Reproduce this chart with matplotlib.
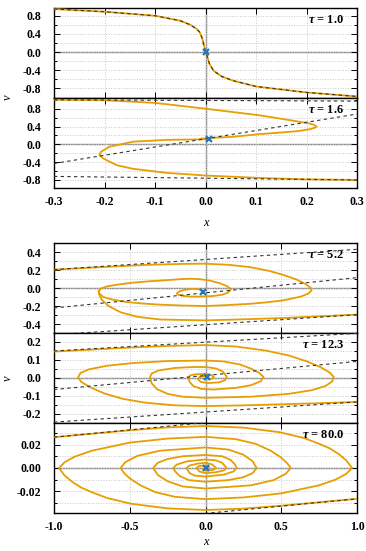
import numpy as np
import matplotlib.pyplot as plt
from matplotlib.ticker import MultipleLocator, FormatStrFormatter

plt.rcParams['font.family'] = 'Liberation Serif'
plt.rcParams['mathtext.fontset'] = 'custom'
plt.rcParams['mathtext.it'] = 'Liberation Serif:italic:bold'
plt.rcParams['mathtext.rm'] = 'Liberation Serif:bold'

ORANGE = '#E69F00'
BLUE = '#1f78c1'

# ---- data ----
tau_labels = ['1.0', '1.6', '5.2', '12.3', '80.0']

# tau = 1.0
p1_x = [-0.3, -0.2, -0.1, -0.05, -0.03, -0.017, -0.011, -0.006, -0.003, 0.0,
        0.004, 0.008, 0.016, 0.032, 0.055, 0.1, 0.2, 0.3]
p1_y = [0.947, 0.888, 0.80, 0.69, 0.6, 0.506, 0.43, 0.286, 0.14, 0.015,
        -0.117, -0.264, -0.41, -0.536, -0.63, -0.756, -0.888, -0.976]
p1_fix = (0.0, 0.0)

# tau = 1.6
p2a_x = [-0.3, -0.2, -0.1, 0.0, 0.108, 0.174, 0.205, 0.214, 0.22, 0.216, 0.207,
         0.185, 0.155, 0.108, 0.055, 0.0, -0.01, 0.006]
p2a_y = [1.0, 0.99, 0.93, 0.80, 0.65, 0.53, 0.47, 0.44, 0.40, 0.37, 0.34,
         0.30, 0.27, 0.23, 0.17, 0.137, 0.125, 0.114]
p2b_x = [0.3, 0.2, 0.12, 0.0, -0.077, -0.143, -0.175, -0.19, -0.203, -0.21, -0.207,
         -0.19, -0.143, -0.077, 0.006]
p2b_y = [-0.80, -0.785, -0.76, -0.70, -0.64, -0.55, -0.47, -0.39, -0.31, -0.243, -0.167,
         -0.053, 0.06, 0.10, 0.114]
p2_null = [([-0.3, 0.3], [1.0, 0.97]), ([-0.3, 0.3], [-0.43, 0.68]), ([-0.3, 0.3], [-0.72, -0.80])]
p2_fix = (0.006, 0.114)

# tau = 5.2
p3a_x = [-1.0, -0.8, -0.6, -0.37, -0.15, 0.0, 0.15, 0.29, 0.42, 0.515, 0.6, 0.66, 0.695, 0.70,
         0.68, 0.63, 0.515, 0.4, 0.29, 0.12, 0.0, -0.15, -0.3, -0.42, -0.52, -0.61, -0.675, -0.70,
         -0.705, -0.69, -0.65, -0.57, -0.48, -0.37, -0.257, -0.15, -0.1, -0.03, 0.03, 0.096, 0.14,
         0.163, 0.166, 0.15, 0.11, 0.05, -0.036, -0.1, -0.15, -0.18, -0.19, -0.175, -0.14, -0.09,
         -0.05, -0.025, -0.015]
p3a_y = [0.204, 0.222, 0.24, 0.258, 0.268, 0.27, 0.258, 0.233, 0.19, 0.145, 0.095, 0.045, 0.0, -0.025,
         -0.06, -0.095, -0.137, -0.16, -0.176, -0.192, -0.2, -0.195, -0.185, -0.172, -0.156, -0.13, -0.1, -0.06,
         -0.035, -0.005, 0.018, 0.04, 0.059, 0.075, 0.087, 0.1, 0.103, 0.097, 0.082, 0.052, 0.022,
         -0.005, -0.02, -0.05, -0.075, -0.089, -0.096, -0.095, -0.087, -0.075, -0.062, -0.04, -0.022, -0.01,
         -0.012, -0.025, -0.044]
p3b_x = [1.0, 0.75, 0.52, 0.25, 0.0, -0.3, -0.45, -0.56, -0.64, -0.685, -0.703, -0.705]
p3b_y = [-0.296, -0.315, -0.333, -0.348, -0.36, -0.35, -0.32, -0.27, -0.2, -0.13, -0.07, -0.035]
p3_null = [([-1, 1], [0.204, 0.43]), ([-1, 1], [-0.222, 0.115]), ([-1, 1], [-0.52, -0.296])]
p3_fix = (-0.015, -0.044)

# tau = 12.3
p4a_x = [-1.0, -0.75, -0.5, -0.25, 0.0, 0.2, 0.4, 0.55, 0.67, 0.76, 0.82, 0.846,
         0.835, 0.79, 0.7, 0.55, 0.3, 0.0, -0.15, -0.25, -0.32, -0.355, -0.367,
         -0.355, -0.31, -0.2, -0.08, 0.0, 0.07, 0.115, 0.14,
         0.13, 0.09, 0.02, -0.03, -0.05, -0.04, 0.0, 0.02, 0.012]
p4a_y = [0.147, 0.158, 0.169, 0.178, 0.183, 0.175, 0.152, 0.125, 0.092, 0.06, 0.03, 0.006,
         -0.02, -0.045, -0.068, -0.088, -0.104, -0.11, -0.104, -0.088, -0.062, -0.03, 0.002,
         0.025, 0.042, 0.056, 0.061, 0.061, 0.053, 0.035, 0.008,
         -0.012, -0.024, -0.028, -0.022, -0.008, 0.006, 0.01, 0.008, 0.004]
p4b_x = [1.0, 0.75, 0.5, 0.25, 0.0, -0.2, -0.4, -0.55, -0.67, -0.76, -0.82, -0.841,
         -0.825, -0.77, -0.65, -0.48, -0.25, 0.0, 0.12, 0.228, 0.3, 0.355, 0.383,
         0.365, 0.3, 0.2, 0.05, -0.03, -0.08, -0.105, -0.113,
         -0.1, -0.06, 0.0, 0.04, 0.055, 0.045, 0.02, 0.012]
p4b_y = [-0.133, -0.14, -0.146, -0.152, -0.156, -0.152, -0.137, -0.115, -0.085, -0.052, -0.022, 0.004,
         0.028, 0.048, 0.068, 0.083, 0.094, 0.097, 0.092, 0.075, 0.052, 0.028, 0.006,
         -0.018, -0.04, -0.055, -0.064, -0.06, -0.045, -0.022, 0.004,
         0.015, 0.021, 0.022, 0.016, 0.005, -0.004, -0.006, 0.004]
p4_null = [([-1, 1], [0.150, 0.248]), ([-1, 1], [-0.064, 0.092]), ([-1, 1], [-0.245, -0.133])]
p4_fix = (0.012, 0.004)

# tau = 80.0
p5a_x = [-1.0, -0.75, -0.5, -0.25, 0.0, 0.25, 0.49, 0.65, 0.75, 0.82, 0.88, 0.93, 0.967,
         0.93, 0.86, 0.75, 0.5, 0.25, 0.0, -0.2, -0.33, -0.43, -0.5, -0.54, -0.56,
         -0.53, -0.45, -0.3, 0.0, 0.15, 0.25, 0.31, 0.338,
         0.31, 0.25, 0.15, 0.0, -0.11, -0.17, -0.2, -0.213,
         -0.19, -0.12, 0.0, 0.07, 0.11, 0.14,
         0.12, 0.06, 0.0, -0.04, -0.06,
         -0.04, 0.0, 0.025, 0.0]
p5a_y = [0.0267, 0.0297, 0.0327, 0.0352, 0.0364, 0.035, 0.031, 0.026, 0.021, 0.017, 0.012, 0.0065, 0.0,
         -0.005, -0.01, -0.015, -0.022, -0.0255, -0.027, -0.025, -0.021, -0.015, -0.009, -0.004, 0.0,
         0.005, 0.0105, 0.015, 0.0178, 0.016, 0.0115, 0.006, 0.0,
         -0.0045, -0.008, -0.0105, -0.0119, -0.0105, -0.007, -0.003, 0.0,
         0.003, 0.0058, 0.0074, 0.0066, 0.0045, 0.0,
         -0.0022, -0.0038, -0.0045, -0.003, 0.0,
         0.0018, 0.0022, 0.001, 0.0]
p5b_x = [1.0, 0.75, 0.5, 0.25, 0.0, -0.25, -0.49, -0.65, -0.75, -0.82, -0.88, -0.93, -0.967,
         -0.93, -0.86, -0.75, -0.5, -0.25, 0.0, 0.2, 0.33, 0.43, 0.5, 0.54, 0.563,
         0.53, 0.45, 0.3, 0.0, -0.15, -0.25, -0.315, -0.345,
         -0.315, -0.25, -0.15, 0.0, 0.11, 0.165, 0.195, 0.206,
         0.185, 0.12, 0.0, -0.07, -0.105, -0.125,
         -0.105, -0.05, 0.0, 0.045, 0.07,
         0.05, 0.0, -0.02, 0.0]
p5b_y = [-0.0267, -0.0297, -0.0327, -0.0352, -0.0364, -0.035, -0.031, -0.026, -0.021, -0.017, -0.012, -0.0065, 0.0,
         0.005, 0.01, 0.015, 0.022, 0.0255, 0.027, 0.025, 0.021, 0.015, 0.009, 0.004, 0.0,
         -0.005, -0.0105, -0.015, -0.0178, -0.016, -0.0115, -0.006, 0.0,
         0.0045, 0.0078, 0.0102, 0.0113, 0.0102, 0.007, 0.003, 0.0,
         -0.003, -0.0058, -0.0074, -0.0066, -0.0045, 0.0,
         0.0022, 0.0038, 0.0045, 0.003, 0.0,
         -0.0018, -0.0022, -0.001, 0.0]
p5_null = [([-1, 0.05], [0.0267, 0.040]), ([-0.05, 1], [-0.040, -0.0267])]
p5_fix = (0.0, 0.0)


def style_axes(ax, xlim, ylim, xmaj, ymaj, ymin_step, yfmt, xfmt):
    ax.set_xlim(*xlim)
    ax.set_ylim(*ylim)
    ax.xaxis.set_major_locator(MultipleLocator(xmaj))
    ax.yaxis.set_major_locator(MultipleLocator(ymaj))
    ax.yaxis.set_minor_locator(MultipleLocator(ymin_step))
    ax.yaxis.set_major_formatter(FormatStrFormatter(yfmt))
    ax.xaxis.set_major_formatter(FormatStrFormatter(xfmt))
    ax.tick_params(which='both', direction='in', top=True, right=True,
                   labelsize=8.5, width=0.7)
    ax.tick_params(axis='y', pad=9)
    ax.tick_params(axis='x', pad=6)
    ax.tick_params(which='major', length=4)
    ax.tick_params(which='minor', length=2.5)
    for lab in ax.get_xticklabels() + ax.get_yticklabels():
        lab.set_fontweight('bold')
    ax.grid(True, which='major', axis='x', color='#c8c8c8', ls=':', lw=0.7)
    ax.grid(True, which='both', axis='y', color='#c8c8c8', ls=':', lw=0.7)
    ax.axhline(0, color='#888888', lw=1.0, zorder=1)
    ax.axvline(0, color='#888888', lw=1.0, zorder=1)
    for s in ax.spines.values():
        s.set_linewidth(1.0)


def draw(ax, trajs, nulls, fix, label):
    for xs, ys in trajs:
        ax.plot(xs, ys, color=ORANGE, lw=1.3, zorder=3, solid_joinstyle='round')
    for xs, ys in nulls:
        ax.plot(xs, ys, color='#333333', lw=0.8, ls=(0, (3, 3)), zorder=4)
    ax.plot(*fix, marker='x', color=BLUE, ms=5, mew=1.6, zorder=5)
    ax.text(0.957, 0.87, r'$\tau$ = ' + label, transform=ax.transAxes,
            ha='right', va='center', fontsize=9, fontweight='bold')


fig = plt.figure(figsize=(3.66, 5.51), dpi=100)
L, W = 54 / 366, 303 / 366
H = 90 / 551


def axes_at(top_px):
    return fig.add_axes([L, 1 - (top_px + 90) / 551, W, H])


ax1 = axes_at(8)
ax2 = axes_at(98)
ax3 = axes_at(243)
ax4 = axes_at(333)
ax5 = axes_at(423)

style_axes(ax1, (-0.3, 0.3), (-1.01, 0.97), 0.1, 0.4, 0.2, '%.1f', '%.1f')
draw(ax1, [(p1_x, p1_y)], [(p1_x, p1_y)], p1_fix, tau_labels[0])
ax1.tick_params(labelbottom=False)

style_axes(ax2, (-0.3, 0.3), (-0.98, 1.04), 0.1, 0.4, 0.2, '%.1f', '%.1f')
draw(ax2, [(p2a_x, p2a_y), (p2b_x, p2b_y)], p2_null, p2_fix, tau_labels[1])

style_axes(ax3, (-1, 1), (-0.5, 0.5), 0.5, 0.2, 0.1, '%.1f', '%.1f')
draw(ax3, [(p3a_x, p3a_y), (p3b_x, p3b_y)], p3_null, p3_fix, tau_labels[2])
ax3.tick_params(labelbottom=False)

style_axes(ax4, (-1, 1), (-0.25, 0.25), 0.5, 0.1, 0.05, '%.1f', '%.1f')
draw(ax4, [(p4a_x, p4a_y), (p4b_x, p4b_y)], p4_null, p4_fix, tau_labels[3])
ax4.tick_params(labelbottom=False)

style_axes(ax5, (-1, 1), (-0.039, 0.039), 0.5, 0.02, 0.01, '%.2f', '%.1f')
draw(ax5, [(p5a_x, p5a_y), (p5b_x, p5b_y)], p5_null, p5_fix, tau_labels[4])

ax2.set_xlabel('x', fontstyle='italic', fontsize=9, labelpad=6)
ax5.set_xlabel('x', fontstyle='italic', fontsize=9, labelpad=2)

fig.text(8 / 366, 1 - 97 / 551, 'v', rotation=90, fontstyle='italic', fontsize=9,
         ha='center', va='center')
fig.text(8 / 366, 1 - 378 / 551, 'v', rotation=90, fontstyle='italic', fontsize=9,
         ha='center', va='center')

fig.savefig('out.png', dpi=100)
